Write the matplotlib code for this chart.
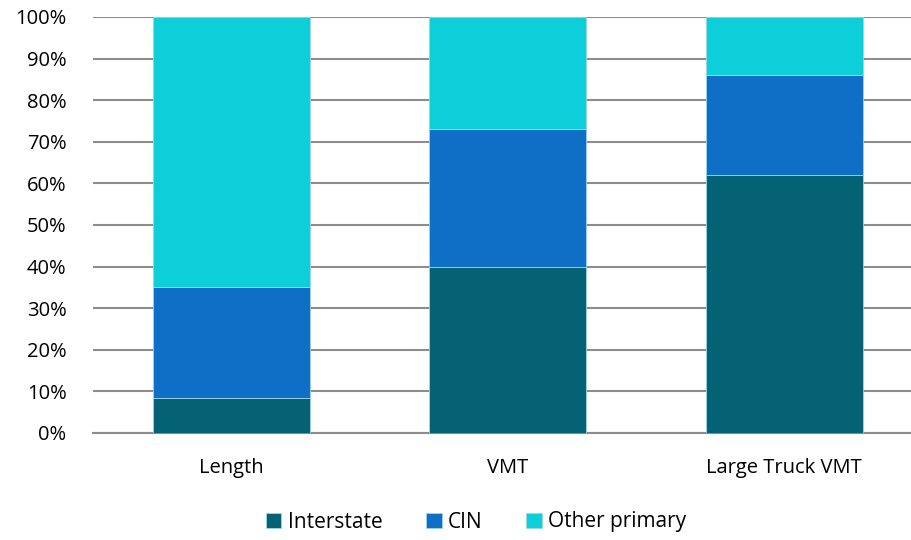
import matplotlib
matplotlib.use("Agg")
import matplotlib.pyplot as plt
import numpy as np

categories = ["Length", "VMT", "Large Truck VMT"]
interstate = [8.3, 40.0, 62.0]
cin = [26.7, 33.0, 24.0]
other = [65.0, 27.0, 14.0]

colors = ["#056274", "#0F6FC6", "#0DCFDA"]

plt.rcParams['font.family'] = ['Open Sans', 'DejaVu Sans']

fig = plt.figure(figsize=(9.12, 5.4), dpi=100)
ax = fig.add_axes([93/912, (540-433)/540, 829.5/912, 416/540])

x = np.arange(len(categories))
w = 0.568
b1 = np.array(interstate)
b2 = b1 + np.array(cin)
ax.bar(x, interstate, w, color=colors[0], label="Interstate", edgecolor="#9fd6e6", linewidth=0.6, zorder=3)
ax.bar(x, cin, w, bottom=b1, color=colors[1], label="CIN", edgecolor="#9fd6e6", linewidth=0.6, zorder=3)
ax.bar(x, other, w, bottom=b2, color=colors[2], label="Other primary", edgecolor="#9fd6e6", linewidth=0.6, zorder=3)

ax.set_xlim(-0.5, 2.5)
ax.set_ylim(0, 100)
ax.set_yticks(np.arange(0, 101, 10))
ax.set_yticklabels([f"{v}%" for v in range(0, 101, 10)], fontsize=14.5)
ax.set_xticks(x)
ax.set_xticklabels(categories, fontsize=14.5)
ax.yaxis.grid(True, color="#8c8c8c", linewidth=1.5, zorder=0)
for s in ["top", "right", "left"]:
    ax.spines[s].set_visible(False)
ax.spines["bottom"].set_color("#8c8c8c")
ax.spines["bottom"].set_linewidth(1.5)
ax.tick_params(axis="both", length=0)
ax.tick_params(axis="y", pad=19)
ax.tick_params(axis="x", pad=18)

fig.legend(loc="center", bbox_to_anchor=(476/912, 1 - 522/540), ncol=3, frameon=False,
           fontsize=15, handlelength=0.75, handleheight=0.75, handletextpad=0.3, columnspacing=2.1)

fig.savefig("out.png", dpi=100)
